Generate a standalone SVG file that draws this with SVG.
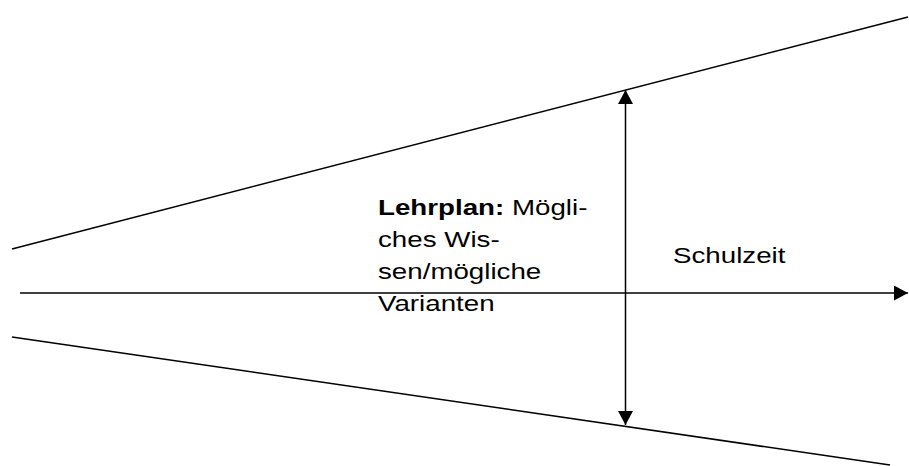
<svg xmlns="http://www.w3.org/2000/svg" width="909" height="466" viewBox="0 0 909 466">
<style>
.ln{stroke:#000;stroke-width:1.5;fill:none}
.t{font-family:"Liberation Sans",Arial,sans-serif;font-size:22px;fill:#000}
.b{font-weight:bold}
</style>
<defs>
<marker id="ah" viewBox="0 0 14 15" refX="14" refY="7.5" markerWidth="14" markerHeight="15" markerUnits="userSpaceOnUse" orient="auto-start-reverse">
<path d="M0,0 L14,7.5 L0,15 Z" fill="#000"/>
</marker>
</defs>
<rect width="909" height="466" fill="#fff"/>
<g id="connectors">
<line class="ln" x1="12" y1="249" x2="908" y2="17"/>
<line class="ln" x1="12" y1="337" x2="890" y2="465"/>
<line class="ln" x1="20" y1="293" x2="908" y2="293" marker-end="url(#ah)"/>
<line class="ln" x1="625.5" y1="90" x2="625.5" y2="425" marker-start="url(#ah)" marker-end="url(#ah)"/>
</g>
<g id="lehrplan" transform="matrix(1.26 0 0 1 378 0)">
<text class="t" x="0" y="215"><tspan class="b">Lehrplan:</tspan> Mögli-</text>
<text class="t" x="0" y="247">ches Wis-</text>
<text class="t" x="0" y="279">sen/mögliche</text>
<text class="t" x="0" y="311">Varianten</text>
</g>
<g id="schulzeit" transform="matrix(1.26 0 0 1 673 0)">
<text class="t" x="0" y="263">Schulzeit</text>
</g>
</svg>
